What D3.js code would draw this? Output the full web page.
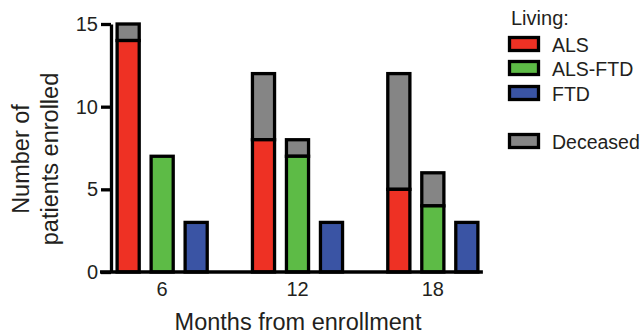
<!DOCTYPE html>
<html><head><meta charset="utf-8">
<script src="https://cdn.jsdelivr.net/npm/d3@7"></script>
<style>body{margin:0;background:#fff}svg{display:block}text{font-family:"Liberation Sans",Arial,sans-serif;fill:#231f20}</style>
</head><body>
<script>
const months = ["6", "12", "18"];
const series = ["ALS", "ALS-FTD", "FTD"];
const livingALS = [14, 8, 5];
const livingALSFTD = [7, 7, 4];
const livingFTD = [3, 3, 3];
const deceasedALS = [1, 4, 7];
const deceasedALSFTD = [0, 1, 2];
const deceasedFTD = [0, 0, 0];
const yTicks = [0, 5, 10, 15];
const colors = {"ALS": "#ee3124", "ALS-FTD": "#5dbb46", "FTD": "#3a54a4", "Deceased": "#858585"};

const living = {"ALS": livingALS, "ALS-FTD": livingALSFTD, "FTD": livingFTD};
const deceased = {"ALS": deceasedALS, "ALS-FTD": deceasedALSFTD, "FTD": deceasedFTD};

const W = 642, H = 335;
const svg = d3.select("body").append("svg").attr("width", W).attr("height", H);

const axisX = 111, y0 = 272, yTop = 24;
const x = d3.scaleBand().domain(months).range([94.5, 500.5]);
const xi = d3.scaleBand().domain(series).range([-51, 51]).paddingInner(0.35).paddingOuter(0.175);
const y = d3.scaleLinear().domain([0, 15]).range([y0, yTop]);
const SW = 3.3;

// bars
const g = svg.append("g");
months.forEach((m, mi) => {
  series.forEach(s => {
    const cx = x(m) + x.bandwidth() / 2;
    const bx = cx + xi(s);
    const lv = living[s][mi], dv = deceased[s][mi];
    if (dv > 0) {
      g.append("rect").attr("x", bx).attr("width", xi.bandwidth())
        .attr("y", y(lv + dv)).attr("height", y(lv) - y(lv + dv))
        .attr("fill", colors["Deceased"]).attr("stroke", "#000").attr("stroke-width", SW);
    }
    g.append("rect").attr("x", bx).attr("width", xi.bandwidth())
      .attr("y", y(lv)).attr("height", y(0) - y(lv))
      .attr("fill", colors[s]).attr("stroke", "#000").attr("stroke-width", SW);
  });
});

const ff = '"Liberation Sans",Arial,sans-serif';
// y axis
const ya = svg.append("g").attr("transform", `translate(${axisX},0)`)
  .call(d3.axisLeft(y).tickValues(yTicks).tickSize(10).tickSizeOuter(0).tickPadding(3));
ya.select(".domain").attr("stroke", "#000").attr("stroke-width", SW);
ya.selectAll(".tick line").attr("stroke", "#000").attr("stroke-width", SW);
ya.selectAll(".tick text").style("font-size", "20px").attr("fill", "#231f20").style("font-family", ff);

// x axis
const lastRight = x("18") + x.bandwidth() / 2 + xi("FTD") + xi.bandwidth() + 5;
const xa = svg.append("g").attr("transform", `translate(0,${y0})`)
  .call(d3.axisBottom(x).tickSize(0).tickPadding(10));
xa.select(".domain").attr("d", `M${axisX - 11},0H${lastRight}`).attr("stroke", "#000").attr("stroke-width", SW);
xa.selectAll(".tick text").style("font-size", "20px").attr("fill", "#231f20").style("font-family", ff);

// axis titles
svg.append("text").attr("x", 298).attr("y", 330).attr("text-anchor", "middle")
  .style("font-size", "23.5px").text("Months from enrollment");
const yt = svg.append("text").attr("transform", "translate(0,159) rotate(-90)")
  .attr("text-anchor", "middle").style("font-size", "23.5px");
yt.append("tspan").attr("x", 0).attr("y", 29).text("Number of");
yt.append("tspan").attr("x", 0).attr("y", 58).text("patients enrolled");

// legend
const lg = svg.append("g");
lg.append("text").attr("x", 511).attr("y", 25).style("font-size", "20px").text("Living:");
const legendItems = [["ALS", 52], ["ALS-FTD", 76], ["FTD", 101], ["Deceased", 149]];
legendItems.forEach(([k, by]) => {
  lg.append("rect").attr("x", 509.5).attr("y", by - 14.5).attr("width", 29).attr("height", 13)
    .attr("fill", colors[k]).attr("stroke", "#000").attr("stroke-width", SW);
  lg.append("text").attr("x", 552).attr("y", by).style("font-size", "19.5px").text(k);
});
</script>
</body></html>
